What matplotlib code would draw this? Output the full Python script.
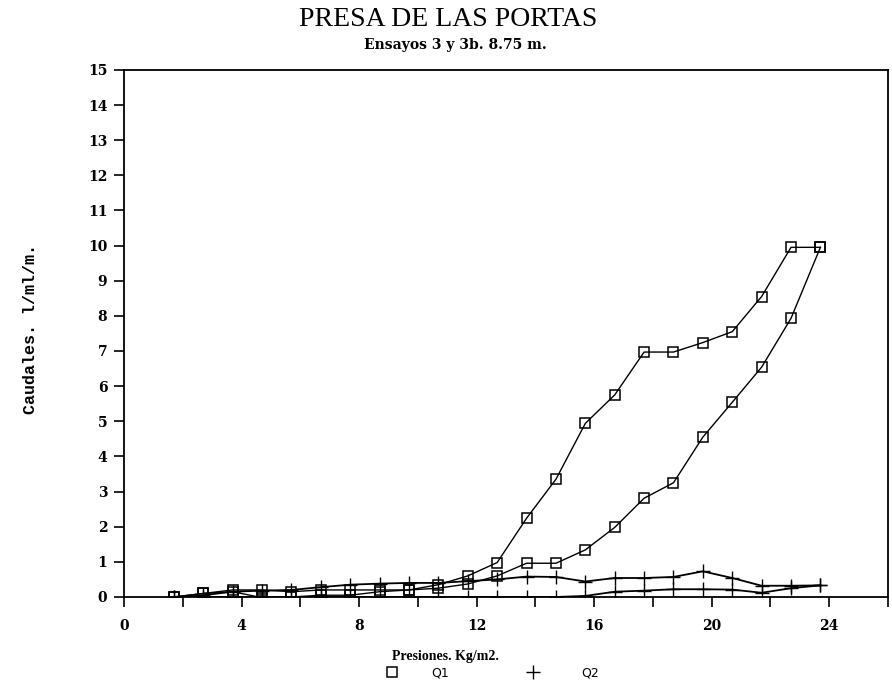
import matplotlib.pyplot as plt
from matplotlib.lines import Line2D

# Presiones (Kg/m2) - ida y vuelta del ensayo
presion_subida = [1.7, 2.7, 3.7, 4.7, 5.7, 6.7, 7.7, 8.7, 9.7, 10.7, 11.7, 12.7,
                  13.7, 14.7, 15.7, 16.7, 17.7, 18.7, 19.7, 20.7, 21.7, 22.7, 23.7]
presion_bajada = presion_subida[::-1]

# Caudales Q1 (l/ml/m)
q1_subida = [0.0, 0.1, 0.2, 0.2, 0.15, 0.2, 0.2, 0.2, 0.2, 0.35, 0.6, 0.98,
             2.24, 3.35, 4.94, 5.75, 6.97, 6.97, 7.24, 7.55, 8.55, 9.95, 9.95]
q1_bajada = [9.95, 7.93, 6.54, 5.54, 4.55, 3.25, 2.81, 1.98, 1.34, 0.96, 0.96, 0.6,
             0.37, 0.25, 0.2, 0.15, 0.05, 0.05, 0.0, -0.02, 0.15, 0.1, 0.0]

# Caudales Q2 (l/ml/m)
q2_subida = [0.0, 0.05, 0.15, 0.18, 0.2, 0.28, 0.35, 0.38, 0.4, 0.4, 0.45, 0.5,
             0.58, 0.57, 0.44, 0.54, 0.54, 0.57, 0.73, 0.54, 0.32, 0.32, 0.33]
q2_bajada = [0.33, 0.25, 0.12, 0.21, 0.22, 0.22, 0.18, 0.15, 0.03, 0.0, 0.0, 0.0,
             0.0, 0.0, 0.0, 0.0, 0.0, 0.0, 0.0, 0.0, 0.0, 0.0, 0.0]

serif = ["Liberation Serif", "DejaVu Serif"]
bold = ["DejaVu Serif"]
mono = ["Liberation Mono", "DejaVu Sans Mono"]

fig = plt.figure(figsize=(8.92, 6.85), dpi=100)
ax = fig.add_axes([0.139, 0.1285, 0.8565, 0.7695])

kw_q1 = dict(color="black", lw=1.0, marker="s", ms=7.5, mfc="none", mec="black", mew=1.1)
kw_q2 = dict(color="black", lw=1.3, marker="+", ms=10, mew=1.0)

ax.plot(presion_subida, q1_subida, **kw_q1)
ax.plot(presion_bajada, q1_bajada, **kw_q1)
ax.plot(presion_subida, q2_subida, **kw_q2)
ax.plot(presion_bajada, q2_bajada, **kw_q2)

ax.set_xlim(0, 26)
ax.set_ylim(0, 15)
ax.set_xticks(range(0, 27, 2))
ax.set_xticklabels([str(v) if v % 4 == 0 and v <= 24 else "" for v in range(0, 27, 2)])
ax.set_yticks(range(0, 16))
ax.tick_params(axis="both", direction="out", length=7, width=1.2, labelsize=10, pad=5)
for lab in ax.get_xticklabels() + ax.get_yticklabels():
    lab.set_fontfamily(bold)
    lab.set_fontweight("bold")
ax.tick_params(axis="x", pad=9)
for s in ax.spines.values():
    s.set_linewidth(1.3)

fig.text(0.502, 0.972, "PRESA DE LAS PORTAS", ha="center", va="center",
         fontsize=20, family=serif)
fig.text(0.51, 0.934, "Ensayos 3 y 3b. 8.75 m.", ha="center", va="center",
         fontsize=10, family=bold, fontweight="bold")
fig.text(0.034, 0.52, "Caudales. l/ml/m.", ha="center", va="center", rotation=90,
         fontsize=12, family=mono, fontweight="bold")
fig.text(0.499, 0.041, "Presiones. Kg/m2.", ha="center", va="center",
         fontsize=10, family=serif, fontweight="bold")

# leyenda
fig.add_artist(Line2D([0.440], [0.0185], transform=fig.transFigure, ls="none",
                      marker="s", ms=7, mfc="none", mec="black", mew=1.1))
fig.text(0.493, 0.0175, "Q1", ha="center", va="center", fontsize=9, family="DejaVu Sans")
fig.add_artist(Line2D([0.597], [0.0185], transform=fig.transFigure, ls="none",
                      marker="+", ms=10, mew=1.0, color="black"))
fig.text(0.662, 0.0175, "Q2", ha="center", va="center", fontsize=9, family="DejaVu Sans")

plt.savefig("out.png", dpi=100)
plt.close()
